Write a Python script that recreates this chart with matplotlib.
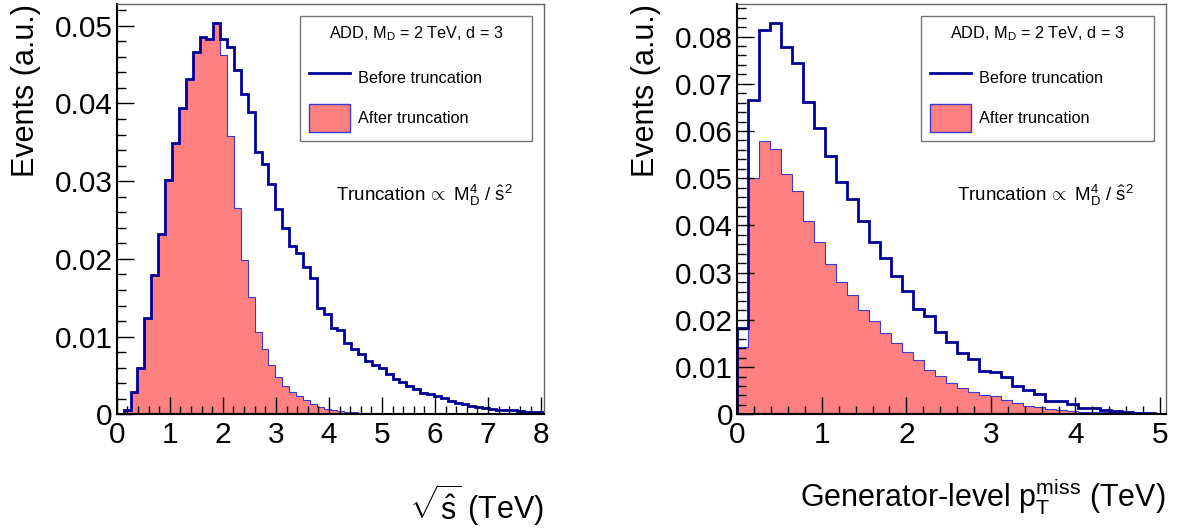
import numpy as np
import matplotlib
matplotlib.use("Agg")
import matplotlib.pyplot as plt
from matplotlib.lines import Line2D
from matplotlib.patches import Patch
from matplotlib.ticker import MultipleLocator, AutoMinorLocator, FuncFormatter

plt.rcParams['font.family'] = ['Liberation Sans', 'DejaVu Sans']
plt.rcParams['mathtext.fontset'] = 'custom'
plt.rcParams['mathtext.rm'] = 'Liberation Sans'
plt.rcParams['mathtext.it'] = 'Liberation Sans:italic'
plt.rcParams['mathtext.bf'] = 'Liberation Sans:bold'

# 100 bins over 0-13 TeV, only the shown range kept
bin_width = 0.13

# sqrt(s-hat) distribution, 62 bins
shat_before = [0.0001, 0.0005, 0.0029, 0.0060, 0.0124, 0.0179, 0.0232, 0.0301, 0.0349, 0.0394,
               0.0431, 0.0466, 0.0485, 0.0483, 0.0503, 0.0483, 0.0473, 0.0443, 0.0412, 0.0389,
               0.0337, 0.0322, 0.0297, 0.0264, 0.0240, 0.0217, 0.0207, 0.0189, 0.0176, 0.0137,
               0.0129, 0.0111, 0.0108, 0.0092, 0.0084, 0.0077, 0.0069, 0.0063, 0.0060, 0.0052,
               0.0046, 0.0042, 0.0036, 0.0033, 0.0028, 0.0026, 0.0023, 0.0021, 0.0017, 0.0014,
               0.0013, 0.0011, 0.0009, 0.0008, 0.0007, 0.0006, 0.0005, 0.0005, 0.0004, 0.0003,
               0.0003, 0.0003]
shat_after = [0.0001, 0.0004, 0.0029, 0.0060, 0.0124, 0.0179, 0.0232, 0.0301, 0.0349, 0.0394,
              0.0431, 0.0466, 0.0485, 0.0483, 0.0503, 0.0462, 0.0358, 0.0266, 0.0199, 0.0151,
              0.0106, 0.0084, 0.0064, 0.0048, 0.0036, 0.0029, 0.0023, 0.0018, 0.0013, 0.0010,
              0.0007, 0.0006, 0.0004, 0.0003, 0.0003, 0.0002, 0.0002, 0.0001, 0.0001, 0.0001,
              0.0001, 0.0001, 0.0001, 0.0001, 0.0001, 0.0001, 0.0, 0.0, 0.0, 0.0,
              0.0, 0.0, 0.0, 0.0, 0.0, 0.0, 0.0, 0.0, 0.0, 0.0,
              0.0, 0.0]

# generator-level MET distribution, 39 bins
met_before = [0.0182, 0.0666, 0.0814, 0.0828, 0.0777, 0.0744, 0.0662, 0.0607, 0.0547, 0.0492,
              0.0456, 0.0410, 0.0366, 0.0332, 0.0293, 0.0262, 0.0222, 0.0208, 0.0174, 0.0153,
              0.0129, 0.0117, 0.0092, 0.0090, 0.0078, 0.0059, 0.0052, 0.0043, 0.0029, 0.0028,
              0.0021, 0.0014, 0.0013, 0.0009, 0.0006, 0.0004, 0.0003, 0.0002, 0.0001]
met_after = [0.0142, 0.0500, 0.0578, 0.0562, 0.0509, 0.0472, 0.0410, 0.0364, 0.0319, 0.0281,
             0.0253, 0.0220, 0.0198, 0.0172, 0.0150, 0.0131, 0.0114, 0.0094, 0.0082, 0.0067,
             0.0056, 0.0048, 0.0040, 0.0039, 0.0030, 0.0023, 0.0018, 0.0015, 0.0011, 0.0009,
             0.0007, 0.0005, 0.0004, 0.0004, 0.0003, 0.0002, 0.0001, 0.0001, 0.0001]

legend_title = r'ADD, M$_\mathrm{D}$ = 2 TeV, d = 3'
trunc_text = r'Truncation$\,{\propto}\ $M$_\mathrm{D}^\mathrm{4}$ / $\hat{\mathrm{s}}^\mathrm{2}$'

blue = '#000099'
fill = '#ff8080'
fill_edge = '#3a3acc'


def ylab(v, pos):
    return '0' if abs(v) < 1e-9 else '%.2f' % v


def draw_panel(ax, before, after, xmax, xmaj, ymax, xlabel, xlab_y):
    edges = np.arange(len(before) + 1) * bin_width
    ax.stairs(after, edges, fill=True, color=fill, lw=0)
    ax.stairs(after, edges, color=fill_edge, lw=0.8)
    ax.stairs(before, edges, color=blue, lw=2.0)

    ax.set_xlim(0, xmax)
    ax.set_ylim(0, ymax)
    ax.xaxis.set_major_locator(MultipleLocator(xmaj))
    ax.xaxis.set_minor_locator(AutoMinorLocator(5))
    ax.yaxis.set_major_locator(MultipleLocator(0.01))
    ax.yaxis.set_minor_locator(AutoMinorLocator(5))
    ax.yaxis.set_major_formatter(FuncFormatter(ylab))
    ax.tick_params(which='both', direction='in', top=False, right=False, labelsize=21.5, width=1)
    ax.tick_params(axis='x', which='major', length=12.5, pad=5)
    ax.tick_params(axis='x', which='minor', length=6)
    ax.tick_params(axis='y', which='major', length=12.5, pad=3)
    ax.tick_params(axis='y', which='minor', length=6.5)
    for s in ['left', 'bottom']:
        ax.spines[s].set_linewidth(1.5)
        ax.spines[s].set_color('black')
    for s in ['top', 'right']:
        ax.spines[s].set_linewidth(1.0)
        ax.spines[s].set_color('#666666')

    ax.set_ylabel('Events (a.u.)', fontsize=22, loc='top')
    ax.yaxis.set_label_coords(-0.178, 1.0)
    ax.set_xlabel(xlabel, fontsize=22, loc='right')
    ax.xaxis.set_label_coords(1.0, xlab_y)

    handles = [Line2D([], [], color=blue, lw=2.0),
               Patch(facecolor=fill, edgecolor=fill_edge, lw=1.0)]
    leg = ax.legend(handles, ['Before truncation', 'After truncation'],
                    title=legend_title, title_fontsize=11.7, fontsize=11.7,
                    loc='upper left', bbox_to_anchor=(0.4287, 0.9715, 0.5424, 0.0),
                    mode='expand', frameon=True, fancybox=False, borderpad=0.55,
                    handlelength=2.5, handleheight=2.3, handletextpad=0.5,
                    labelspacing=0.75, borderaxespad=0.0)
    leg.get_frame().set_edgecolor('#555555')
    leg.get_frame().set_linewidth(1.0)
    leg._legend_box.sep = 14.5  # more room under the header line

    ax.text(0.512, 0.534, trunc_text, transform=ax.transAxes, fontsize=13.5,
            ha='left', va='center')


fig = plt.figure(figsize=(11.83, 5.32), dpi=100)
ax1 = fig.add_axes([0.0987, 0.2212, 0.3614, 0.7713])
ax2 = fig.add_axes([0.6232, 0.2212, 0.3624, 0.7713])

draw_panel(ax1, shat_before, shat_after, len(shat_before) * bin_width, 1, 0.0528,
           r'$\sqrt{\hat{\mathrm{s}}}$ (TeV)', -0.165)
draw_panel(ax2, met_before, met_after, len(met_before) * bin_width, 1, 0.0869,
           r'Generator-level p$_\mathrm{T}^\mathrm{miss}$ (TeV)', -0.152)

fig.savefig('out.png', dpi=100)
